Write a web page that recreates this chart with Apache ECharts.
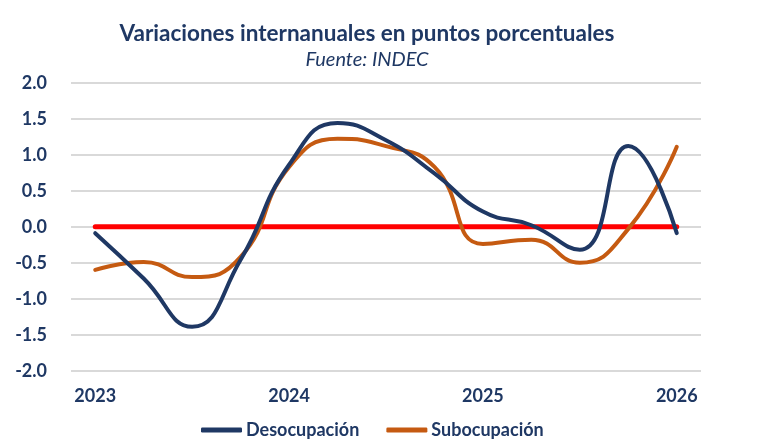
<!DOCTYPE html>
<html>
<head>
<meta charset="utf-8">
<script src="https://cdn.jsdelivr.net/npm/echarts@6/dist/echarts.min.js"></script>
<style>
  html, body { margin: 0; padding: 0; background: #fff; }
  #chart { width: 758px; height: 447px; }
</style>
</head>
<body>
<div id="chart"></div>
<script>
// trimestres, etiqueta visible solo en el primero de cada año
const periods = ['2023-T1','2023-T2','2023-T3','2023-T4',
                 '2024-T1','2024-T2','2024-T3','2024-T4',
                 '2025-T1','2025-T2','2025-T3','2025-T4',
                 '2026-T1'];
const desocupacion = [-0.09, -0.72, -1.39, -0.46, 0.86, 1.44, 1.20, 0.74, 0.21, 0.02, -0.32, 1.12, -0.09];
const subocupacion = [-0.60, -0.49, -0.70, -0.42, 0.83, 1.22, 1.12, 0.83, -0.24, -0.18, -0.50, -0.03, 1.11];
const baseline = [0, 0, 0, 0, 0, 0, 0, 0, 0, 0, 0, 0, 0];

const navy = '#1F3864';
const font = 'Lato';

const chart = echarts.init(document.getElementById('chart'));
const option = {
  animation: false,
  title: {
    text: 'Variaciones internanuales en puntos porcentuales',
    subtext: 'Fuente: INDEC',
    left: 362, textAlign: 'center',
    top: 17,
    itemGap: 5,
    textStyle: { fontFamily: font, fontSize: 22.5, fontWeight: 'bold', color: navy },
    subtextStyle: { fontFamily: font, fontSize: 20, fontStyle: 'italic', color: navy }
  },
  legend: {
    data: ['Desocupación', 'Subocupación'],
    left: 196, top: 416,
    itemWidth: 41, itemHeight: 5, itemGap: 27,
    icon: 'roundRect',
    textStyle: { fontFamily: font, fontSize: 18, fontWeight: 'bold', color: navy, padding: [0, 0, 0, -1] }
  },
  grid: { left: 71, right: 57, top: 82.7, bottom: 76.3 },
  xAxis: {
    type: 'category',
    data: periods,
    boundaryGap: true,
    axisLine: { show: false },
    axisTick: { show: false },
    axisLabel: {
      interval: 3, margin: 16,
      formatter: v => v.slice(0, 4),
      fontFamily: font, fontSize: 18, fontWeight: 'bold', color: navy
    },
    splitLine: { show: false }
  },
  yAxis: {
    type: 'value',
    min: -2, max: 2, interval: 0.5,
    axisLine: { show: false },
    axisTick: { show: false },
    axisLabel: {
      margin: 24,
      formatter: v => v.toFixed(1),
      fontFamily: font, fontSize: 18, fontWeight: 'bold', color: navy
    },
    splitLine: { lineStyle: { color: '#D9D9D9', width: 2 } }
  },
  series: [
    {
      name: 'Cero', type: 'line', data: baseline,
      symbol: 'none', silent: true,
      lineStyle: { color: '#FF0000', width: 5, cap: 'round' }, z: 1
    },
    {
      name: 'Desocupación', type: 'line', data: desocupacion,
      smooth: 0.5, symbol: 'none',
      itemStyle: { color: navy },
      lineStyle: { color: navy, width: 4, cap: 'round' }, z: 3
    },
    {
      name: 'Subocupación', type: 'line', data: subocupacion,
      smooth: 0.5, symbol: 'none',
      itemStyle: { color: '#C55A11' },
      lineStyle: { color: '#C55A11', width: 4, cap: 'round' }, z: 2
    }
  ]
};
chart.setOption(option);
</script>
</body>
</html>
